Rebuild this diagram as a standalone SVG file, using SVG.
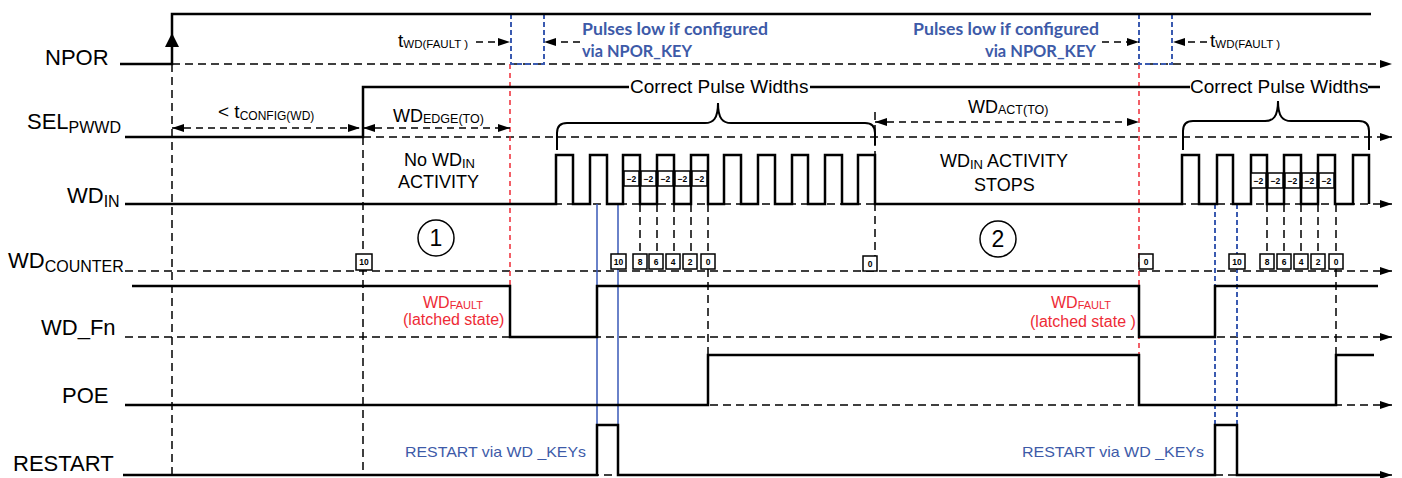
<svg xmlns="http://www.w3.org/2000/svg" width="1402" height="478" viewBox="0 0 1402 478">
<style>
text{font-family:"Liberation Sans",Arial,sans-serif;fill:#000}
.lbl{font-size:22px}
.sub{font-size:16px}
.sig{stroke:#000;stroke-width:2.5;fill:none;stroke-linejoin:miter}
.ref{stroke:#000;stroke-width:1.5;stroke-dasharray:8 5;fill:none}
.vd{stroke:#000;stroke-width:1.5;stroke-dasharray:8 5;fill:none}
.dim{stroke:#000;stroke-width:1.5;stroke-dasharray:7 5;fill:none}
.red{stroke:#ee2b36;stroke-width:1.5;stroke-dasharray:5 4;fill:none}
.bd{stroke:#3a5ab0;stroke-width:2;stroke-dasharray:5 3;fill:none}
.bl{stroke:#3a5ab8;stroke-width:1.5;fill:none}
.box{fill:#fff;stroke:#000;stroke-width:1.5}
.bt{font-size:8.5px;font-weight:bold;text-anchor:middle}
.brace{stroke:#000;stroke-width:2;fill:none}
.ann{font-size:18px}
.an2{font-size:12.5px}
.rt{fill:#ee2b36}
.bt2{fill:#3d5aa8;font-size:15px}
.kb{font-family:Lato,"Open Sans",sans-serif;font-weight:bold;font-size:17.5px;fill:#3d5aa8}
</style>
<defs>
<marker id="ah" viewBox="0 0 12 8" refX="12" refY="4" markerWidth="12" markerHeight="8" markerUnits="userSpaceOnUse" orient="auto-start-reverse"><path d="M0,0 L12,4 L0,8 z" fill="#000"/></marker>
</defs>

<!-- reference dashed baselines -->
<g id="baselines">
<path class="ref" d="M172,64 H1392" marker-end="url(#ah)"/>
<path class="ref" d="M363,137 H1392" marker-end="url(#ah)"/>
<path class="ref" d="M125,204 H1392" marker-end="url(#ah)"/>
<path class="ref" d="M125,271 H1392" marker-end="url(#ah)"/>
<path class="ref" d="M125,337 H1392" marker-end="url(#ah)"/>
<path class="ref" d="M125,405 H1392" marker-end="url(#ah)"/>
<path class="ref" d="M123,475 H1392" marker-end="url(#ah)"/>
</g>

<g id="connectors">
<!-- black dashed verticals -->
<path class="vd" d="M172,64 V475 M363,137 V475 M640,204 V255 M657,204 V255 M674,204 V255 M691,204 V255 M708,204 V355 M875,112 V256 M1267,204 V255 M1284,204 V255 M1301,204 V255 M1318,204 V255 M1336,204 V356"/>
<!-- red dashed -->
<path class="red" d="M510,64 V286 M1139,64 V356"/>
<!-- blue dashed (NPOR pulses) -->
<path class="bd" d="M511,14 V64 H544 V14 M1139,14 V64 H1172 V14"/>
<!-- blue restart markers -->
<path class="bl" d="M597,204 V475 M618,204 V475"/>
<path class="bd" d="M1215,204 V475 M1237,204 V475"/>
<!-- dimension arrows -->
<path class="dim" d="M172,128 H360" marker-start="url(#ah)" marker-end="url(#ah)"/>
<path class="dim" d="M363,128 H510" marker-start="url(#ah)" marker-end="url(#ah)"/>
<path class="dim" d="M875,122 H1139" marker-start="url(#ah)" marker-end="url(#ah)"/>
<path class="dim" d="M476,42 H510" marker-end="url(#ah)"/>
<path class="dim" d="M580,42 H544" marker-end="url(#ah)"/>
<path class="dim" d="M1102,42 H1139" marker-end="url(#ah)"/>
<path class="dim" d="M1207,42 H1173" marker-end="url(#ah)"/>
<!-- braces -->
<path class="brace" d="M557,150 V133 Q557,123 567,123 H705 C713,123 718,119 718,103 C718,119 723,123 731,123 H865 Q875,123 875,133 V145"/>
<path class="brace" d="M1183,150 V131 Q1183,121 1193,121 H1265 C1273,121 1278,117 1278,101 C1278,117 1283,121 1291,121 H1359 Q1369,121 1369,131 V150"/>
</g>

<g id="sig-npor">
<text class="lbl" x="45" y="65">NPOR</text>
<path class="sig" d="M120,64 H172 V14 H1371"/>
<path d="M172,33 L165,47 L179,47 z" fill="#000"/>
</g>

<g id="sig-sel">
<text class="lbl" x="27" y="129">SEL<tspan class="sub" dy="4">PWWD</tspan></text>
<path class="sig" d="M125,137 H363 V87 H629 M810,87 H1190 M1368,87 H1380"/>
<text x="630" y="93" style="font-size:19px">Correct Pulse Widths</text>
<text x="1190" y="93" style="font-size:19px">Correct Pulse Widths</text>
</g>

<g id="sig-wdin">
<text class="lbl" x="67" y="203">WD<tspan class="sub" dy="4">IN</tspan></text>
<path class="sig" d="M125,204 H556 V155 H573 V204 H590 V155 H607 V204 H623 V155 H640 V204 H657 V155 H674 V204 H691 V155 H708 V204 H724 V155 H741 V204 H758 V155 H775 V204 H792 V155 H808 V204 H825 V155 H842 V204 H858 V155 H875 V204 H1182 V155 H1199 V204 H1217 V155 H1233 V204 H1251 V155 H1267 V204 H1284 V155 H1301 V204 H1318 V155 H1335 V204 H1353 V155 H1369 V204"/>
<g>
<rect class="box" x="624" y="171" width="15" height="15"/><text class="bt" x="631.5" y="181.5">−2</text>
<rect class="box" x="641" y="171" width="15" height="15"/><text class="bt" x="648.5" y="181.5">−2</text>
<rect class="box" x="658" y="171" width="15" height="15"/><text class="bt" x="665.5" y="181.5">−2</text>
<rect class="box" x="675" y="171" width="15" height="15"/><text class="bt" x="682.5" y="181.5">−2</text>
<rect class="box" x="692" y="171" width="15" height="15"/><text class="bt" x="699.5" y="181.5">−2</text>
<rect class="box" x="1251" y="173" width="15" height="15"/><text class="bt" x="1258.5" y="183.5">−2</text>
<rect class="box" x="1268" y="173" width="15" height="15"/><text class="bt" x="1275.5" y="183.5">−2</text>
<rect class="box" x="1285" y="173" width="15" height="15"/><text class="bt" x="1292.5" y="183.5">−2</text>
<rect class="box" x="1302" y="173" width="15" height="15"/><text class="bt" x="1309.5" y="183.5">−2</text>
<rect class="box" x="1319" y="173" width="15" height="15"/><text class="bt" x="1326.5" y="183.5">−2</text>
</g>
<text class="ann" x="404" y="166">No WD<tspan style="font-size:13px" dy="2">IN</tspan></text>
<text class="ann" x="398" y="188">ACTIVITY</text>
<text class="ann" x="940" y="167">WD<tspan style="font-size:13px" dy="2">IN</tspan><tspan dy="-2"> ACTIVITY</tspan></text>
<text class="ann" x="974" y="191">STOPS</text>
</g>

<g id="sig-counter">
<text class="lbl" x="8" y="268">WD<tspan class="sub" dy="4">COUNTER</tspan></text>
<rect class="box" x="356" y="254" width="16" height="16"/><text class="bt" x="364" y="265">10</text>
<rect class="box" x="611" y="254" width="15" height="15"/><text class="bt" x="618.5" y="264.5">10</text>
<rect class="box" x="633" y="254" width="14" height="15"/><text class="bt" x="640" y="264.5">8</text>
<rect class="box" x="649" y="254" width="14" height="15"/><text class="bt" x="656" y="264.5">6</text>
<rect class="box" x="666" y="254" width="14" height="15"/><text class="bt" x="673" y="264.5">4</text>
<rect class="box" x="683" y="254" width="14" height="15"/><text class="bt" x="690" y="264.5">2</text>
<rect class="box" x="701" y="254" width="14" height="15"/><text class="bt" x="708" y="264.5">0</text>
<rect class="box" x="863" y="256" width="14" height="15"/><text class="bt" x="870" y="266.5">0</text>
<rect class="box" x="1139" y="254" width="14" height="15"/><text class="bt" x="1146" y="264.5">0</text>
<rect class="box" x="1229" y="254" width="16" height="15"/><text class="bt" x="1237" y="264.5">10</text>
<rect class="box" x="1260" y="254" width="14" height="15"/><text class="bt" x="1267" y="264.5">8</text>
<rect class="box" x="1277" y="254" width="14" height="15"/><text class="bt" x="1284" y="264.5">6</text>
<rect class="box" x="1294" y="254" width="14" height="15"/><text class="bt" x="1301" y="264.5">4</text>
<rect class="box" x="1311" y="254" width="14" height="15"/><text class="bt" x="1318" y="264.5">2</text>
<rect class="box" x="1329" y="254" width="14" height="15"/><text class="bt" x="1336" y="264.5">0</text>
<circle cx="436" cy="238" r="18" fill="none" stroke="#000" stroke-width="1.5"/>
<text x="436" y="246" style="font-size:23px;text-anchor:middle">1</text>
<circle cx="998" cy="239" r="18" fill="none" stroke="#000" stroke-width="1.5"/>
<text x="998" y="247" style="font-size:23px;text-anchor:middle">2</text>
</g>

<g id="sig-wdfn">
<text class="lbl" x="41" y="335">WD_Fn</text>
<path class="sig" d="M132,286 H510 V337 H597 V286 H1139 V337 H1215 V286 H1378"/>
<text class="rt" x="423" y="308" style="font-size:16px">WD<tspan style="font-size:11px" dy="1">FAULT</tspan></text>
<text class="rt" x="403" y="325" style="font-size:16px">(latched state)</text>
<text class="rt" x="1051" y="308" style="font-size:16px">WD<tspan style="font-size:11px" dy="1">FAULT</tspan></text>
<text class="rt" x="1030" y="327" style="font-size:16px">(latched state )</text>
</g>

<g id="sig-poe">
<text class="lbl" x="62" y="403">POE</text>
<path class="sig" d="M125,405 H708 V355 H1139 V405 H1336 V355 H1374"/>
</g>

<g id="sig-restart">
<text class="lbl" x="13" y="471">RESTART</text>
<path class="sig" d="M123,475 H597 V425 H618 V475 H1215 V425 H1237 V475 H1380"/>
<text class="bt2" x="405" y="457" textLength="181" lengthAdjust="spacingAndGlyphs">RESTART via WD _KEYs</text>
<text class="bt2" x="1022" y="457" textLength="182" lengthAdjust="spacingAndGlyphs">RESTART via WD _KEYs</text>
</g>

<g id="annotations">
<text x="218" y="118" style="font-size:19px">&lt; t<tspan style="font-size:12px" dy="2">CONFIG(WD)</tspan></text>
<text x="393" y="122" style="font-size:18px">WD<tspan class="an2" dy="1">EDGE(TO)</tspan></text>
<text x="968" y="113" style="font-size:18px">WD<tspan class="an2" dy="1">ACT(TO)</tspan></text>
<text x="398" y="47" style="font-size:19px">t<tspan style="font-size:11.5px" dy="1">WD(FAULT )</tspan></text>
<text x="1210" y="47" style="font-size:19px">t<tspan style="font-size:11.5px" dy="1">WD(FAULT )</tspan></text>
<text class="kb" x="582" y="35" textLength="186" lengthAdjust="spacingAndGlyphs">Pulses low if configured</text>
<text class="kb" x="582" y="57" textLength="110" lengthAdjust="spacingAndGlyphs">via NPOR_KEY</text>
<text class="kb" x="913" y="35" textLength="186" lengthAdjust="spacingAndGlyphs">Pulses low if configured</text>
<text class="kb" x="985" y="57" textLength="111" lengthAdjust="spacingAndGlyphs">via NPOR_KEY</text>
</g>
</svg>
